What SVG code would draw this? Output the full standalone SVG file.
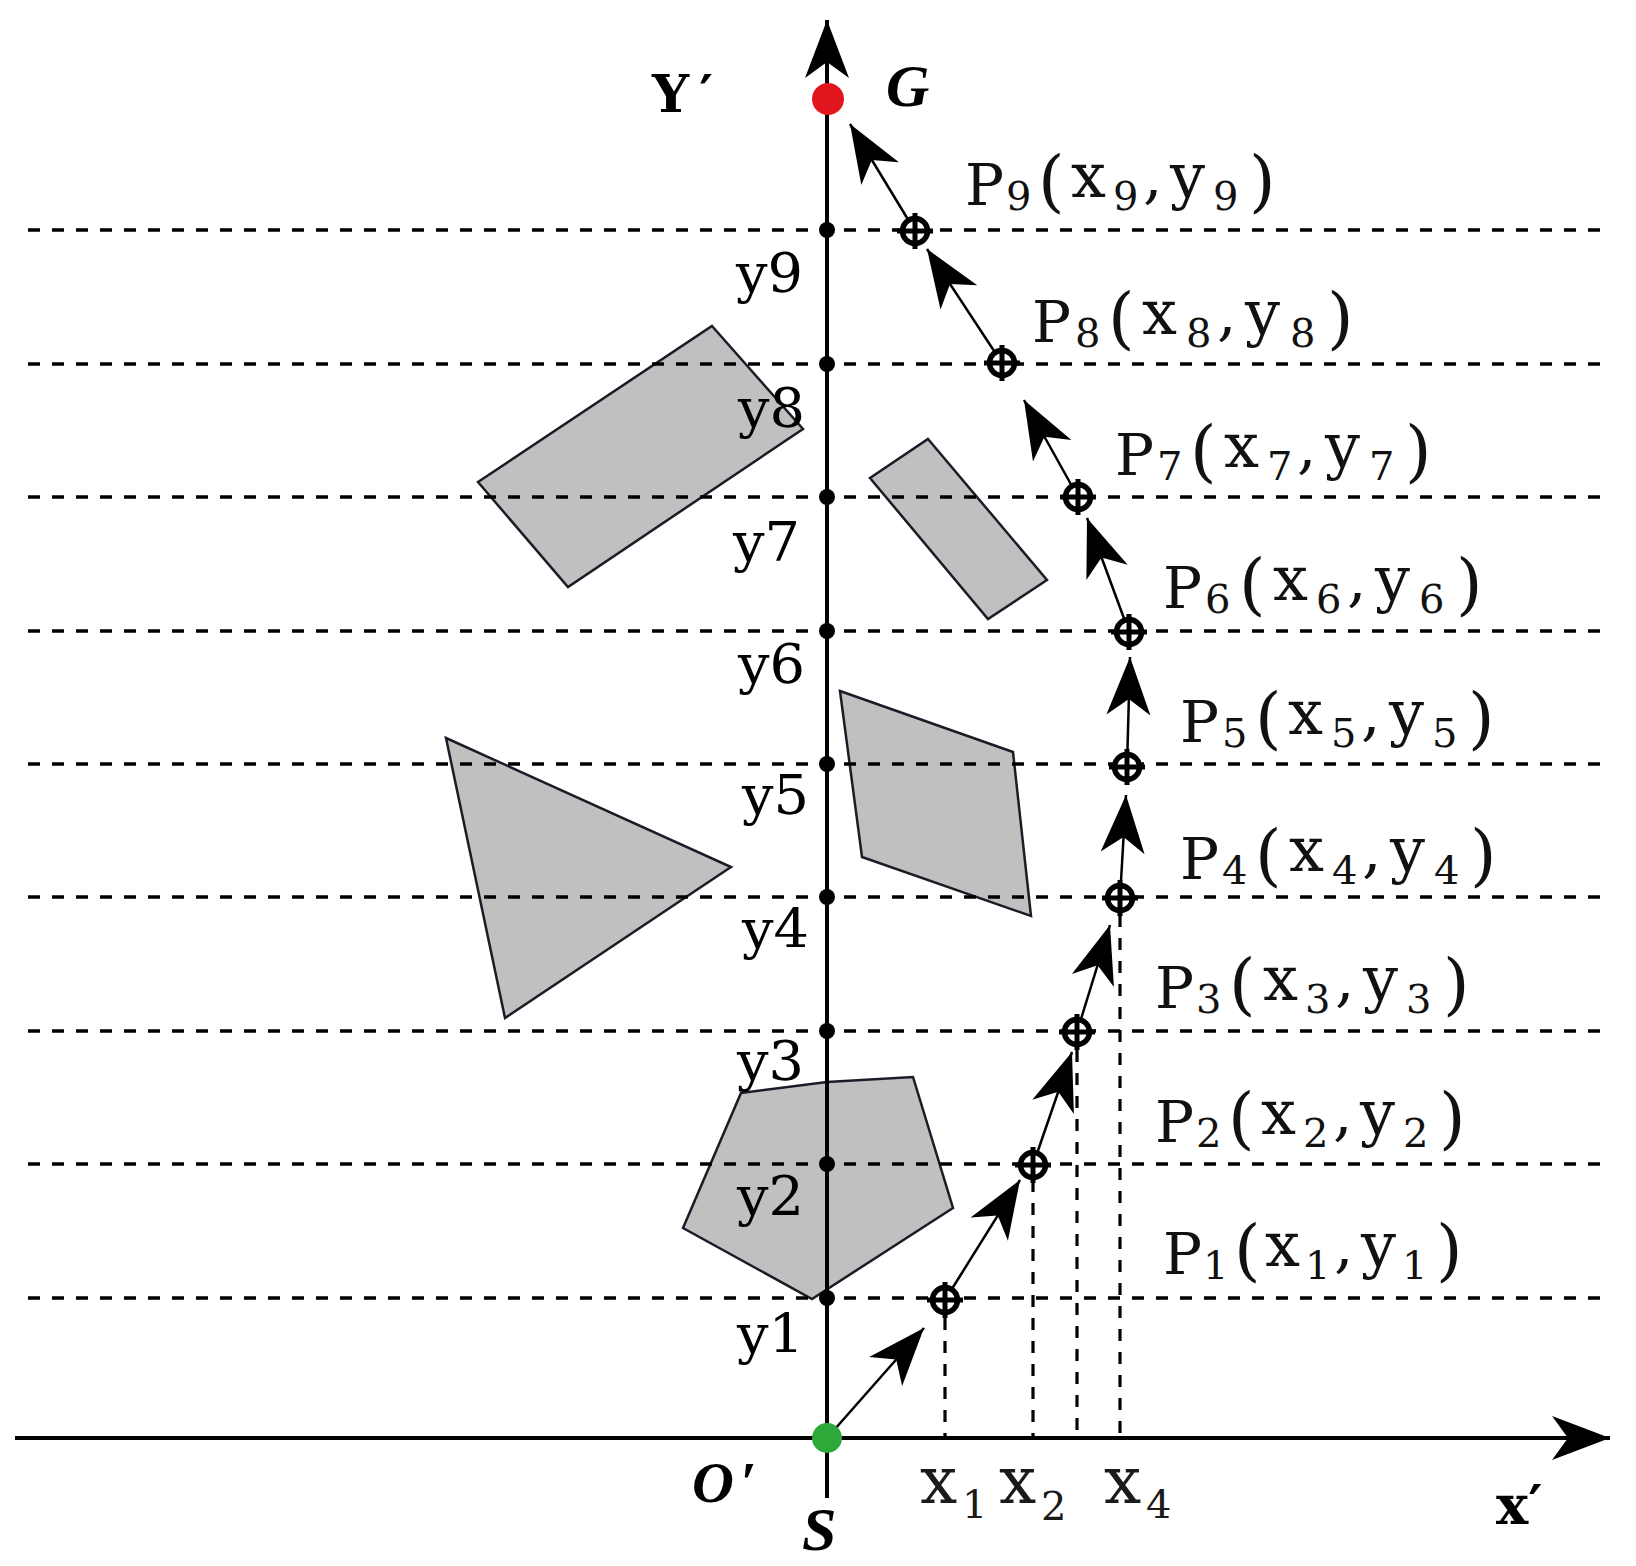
<svg xmlns="http://www.w3.org/2000/svg" width="1636" height="1566" viewBox="0 0 1636 1566">
<style>
.grid{stroke:#000;stroke-width:3.4;stroke-dasharray:12 12;fill:none}
.vgrid{stroke:#000;stroke-width:3.2;stroke-dasharray:12 11;fill:none}
.obs{fill:#c0c0c0;stroke:#1c1c28;stroke-width:2.5}
.axis{stroke:#000;stroke-width:4;fill:none}
.conn{stroke:#000;stroke-width:2.5;fill:none;marker-end:url(#ah)}
.tick{fill:#000}
.ylab{font-family:"DejaVu Serif","Liberation Serif",serif;font-size:54px;fill:#000}
.plab{font-family:"DejaVu Serif",serif;fill:#111}
.big{font-size:58px}
.xy{font-size:62px}
.sub{font-size:40px}
.par{font-size:68px}
.ital{font-family:"Liberation Serif",serif;font-style:italic;font-weight:bold;fill:#000}
.xl{font-family:"DejaVu Serif",serif;fill:#1a1a1a}
.bs{font-family:"DejaVu Serif",serif;font-weight:bold;fill:#000}
</style>
<defs>
<marker id="ah" viewBox="-60 -26 62 52" markerWidth="62" markerHeight="52" refX="0" refY="0" orient="auto" markerUnits="userSpaceOnUse">
<path d="M0,0 L-58,-22 L-42,0 L-58,22 Z" fill="#000"/>
</marker>
<g id="wp">
<circle r="12.5" fill="#fff" stroke="#000" stroke-width="5.5"/>
<path d="M-18,0 H18 M0,-18 V18" stroke="#000" stroke-width="5"/>
</g>
</defs>
<rect width="1636" height="1566" fill="#fff"/>

<g id="obstacles">
<polygon id="obs-rect1" class="obs" points="712,326 803,429 568,587 478,482"/>
<polygon id="obs-rect2" class="obs" points="928,439 1047,580 988,619 870,478"/>
<polygon id="obs-quad" class="obs" points="840,691 1013,752 1031,916 862,857"/>
<polygon id="obs-tri" class="obs" points="446,738 731,867 505,1018"/>
<polygon id="obs-pent" class="obs" points="741,1093 827,1082 913,1077 953,1208 812,1299 683,1228"/>
</g>

<g id="grid">
<line class="grid" x1="28" y1="230" x2="1601" y2="230"/>
<line class="grid" x1="28" y1="364" x2="1601" y2="364"/>
<line class="grid" x1="28" y1="497" x2="1601" y2="497"/>
<line class="grid" x1="28" y1="631" x2="1601" y2="631"/>
<line class="grid" x1="28" y1="764" x2="1601" y2="764"/>
<line class="grid" x1="28" y1="897" x2="1601" y2="897"/>
<line class="grid" x1="28" y1="1031" x2="1601" y2="1031"/>
<line class="grid" x1="28" y1="1164" x2="1601" y2="1164"/>
<line class="grid" x1="28" y1="1298" x2="1601" y2="1298"/>
<line class="vgrid" x1="945" y1="1318" x2="945" y2="1438"/>
<line class="vgrid" x1="1033" y1="1180" x2="1033" y2="1438"/>
<line class="vgrid" x1="1077" y1="1050" x2="1077" y2="1438"/>
<line class="vgrid" x1="1120" y1="915" x2="1120" y2="1438"/>
</g>

<g id="axes">
<line class="axis" x1="827" y1="1498" x2="827" y2="20" marker-end="url(#ah)"/>
<line class="axis" x1="15" y1="1438" x2="1610" y2="1438" marker-end="url(#ah)"/>
<g class="tick">
<circle cx="827" cy="230" r="8"/><circle cx="827" cy="364" r="8"/><circle cx="827" cy="497" r="8"/>
<circle cx="827" cy="631" r="8"/><circle cx="827" cy="764" r="8"/><circle cx="827" cy="897" r="8"/>
<circle cx="827" cy="1031" r="8"/><circle cx="827" cy="1164" r="8"/><circle cx="827" cy="1298" r="8"/>
</g>
</g>

<g id="axis-labels">
<text class="ylab" x="736" y="292" textLength="67" lengthAdjust="spacingAndGlyphs">y9</text>
<text class="ylab" x="738" y="427" textLength="67" lengthAdjust="spacingAndGlyphs">y8</text>
<text class="ylab" x="733" y="561" textLength="67" lengthAdjust="spacingAndGlyphs">y7</text>
<text class="ylab" x="738" y="683" textLength="67" lengthAdjust="spacingAndGlyphs">y6</text>
<text class="ylab" x="742" y="814" textLength="67" lengthAdjust="spacingAndGlyphs">y5</text>
<text class="ylab" x="742" y="948" textLength="67" lengthAdjust="spacingAndGlyphs">y4</text>
<text class="ylab" x="737" y="1080" textLength="67" lengthAdjust="spacingAndGlyphs">y3</text>
<text class="ylab" x="737" y="1215" textLength="67" lengthAdjust="spacingAndGlyphs">y2</text>
<text class="ylab" x="737" y="1353" textLength="67" lengthAdjust="spacingAndGlyphs">y1</text>
<text class="bs" x="652" y="112" font-size="52">Y<tspan dx="10">′</tspan></text>
<text class="ital" x="886" y="106" font-size="60">G</text>
<text class="ital" x="692" y="1502" font-size="58">O<tspan dx="6">′</tspan></text>
<text class="ital" x="802" y="1550" font-size="62">S</text>
<text class="xl" x="920" y="1503" font-size="66">x</text><text class="xl" x="962" y="1518" font-size="40">1</text>
<text class="xl" x="999" y="1503" font-size="66">x</text><text class="xl" x="1041" y="1520" font-size="40">2</text>
<text class="xl" x="1104" y="1503" font-size="66">x</text><text class="xl" x="1146" y="1518" font-size="40">4</text>
<text class="bs" x="1496" y="1524" font-size="54">x′</text>
</g>

<g id="connectors">
<line class="conn" x1="827" y1="1438" x2="924" y2="1328"/>
<line class="conn" x1="945" y1="1300" x2="1020" y2="1180"/>
<line class="conn" x1="1033" y1="1165" x2="1072" y2="1052"/>
<line class="conn" x1="1077" y1="1032" x2="1110" y2="925"/>
<line class="conn" x1="1120" y1="898" x2="1126" y2="795"/>
<line class="conn" x1="1127" y1="767" x2="1130" y2="657"/>
<line class="conn" x1="1129" y1="632" x2="1087" y2="518"/>
<line class="conn" x1="1078" y1="497" x2="1024" y2="400"/>
<line class="conn" x1="1002" y1="363" x2="927" y2="249"/>
<line class="conn" x1="915" y1="231" x2="850" y2="124"/>
</g>

<g id="start-S"><circle cx="827" cy="1438" r="15" fill="#2fa83a"/></g>
<g id="goal-G"><circle cx="828" cy="99" r="16" fill="#e2141c"/></g>

<g id="waypoints">
<use id="wp1" href="#wp" x="945" y="1300"/>
<use id="wp2" href="#wp" x="1033" y="1165"/>
<use id="wp3" href="#wp" x="1077" y="1032"/>
<use id="wp4" href="#wp" x="1120" y="898"/>
<use id="wp5" href="#wp" x="1127" y="767"/>
<use id="wp6" href="#wp" x="1129" y="632"/>
<use id="wp7" href="#wp" x="1078" y="497"/>
<use id="wp8" href="#wp" x="1002" y="363"/>
<use id="wp9" href="#wp" x="915" y="231"/>
</g>

<g id="point-labels" class="plab">
<text id="lab9"><tspan class="big" x="965" y="205">P</tspan><tspan class="sub" x="1006" y="210">9</tspan><tspan class="par" x="1038" y="204">(</tspan><tspan class="xy" x="1071" y="197">x</tspan><tspan class="sub" x="1113" y="210">9</tspan><tspan class="xy" x="1143" y="197">,</tspan><tspan class="xy" x="1170" y="197">y</tspan><tspan class="sub" x="1213" y="210">9</tspan><tspan class="par" x="1249" y="204">)</tspan></text>
<text id="lab8"><tspan class="big" x="1032" y="342">P</tspan><tspan class="sub" x="1075" y="347">8</tspan><tspan class="par" x="1108" y="341">(</tspan><tspan class="xy" x="1142" y="334">x</tspan><tspan class="sub" x="1186" y="347">8</tspan><tspan class="xy" x="1217" y="334">,</tspan><tspan class="xy" x="1245" y="334">y</tspan><tspan class="sub" x="1290" y="347">8</tspan><tspan class="par" x="1327" y="341">)</tspan></text>
<text id="lab7"><tspan class="big" x="1115" y="475">P</tspan><tspan class="sub" x="1157" y="480">7</tspan><tspan class="par" x="1190" y="474">(</tspan><tspan class="xy" x="1224" y="467">x</tspan><tspan class="sub" x="1267" y="480">7</tspan><tspan class="xy" x="1297" y="467">,</tspan><tspan class="xy" x="1325" y="467">y</tspan><tspan class="sub" x="1369" y="480">7</tspan><tspan class="par" x="1405" y="474">)</tspan></text>
<text id="lab6"><tspan class="big" x="1163" y="608">P</tspan><tspan class="sub" x="1205" y="613">6</tspan><tspan class="par" x="1239" y="607">(</tspan><tspan class="xy" x="1273" y="600">x</tspan><tspan class="sub" x="1316" y="613">6</tspan><tspan class="xy" x="1347" y="600">,</tspan><tspan class="xy" x="1375" y="600">y</tspan><tspan class="sub" x="1419" y="613">6</tspan><tspan class="par" x="1456" y="607">)</tspan></text>
<text id="lab5"><tspan class="big" x="1180" y="742">P</tspan><tspan class="sub" x="1222" y="747">5</tspan><tspan class="par" x="1255" y="741">(</tspan><tspan class="xy" x="1288" y="734">x</tspan><tspan class="sub" x="1331" y="747">5</tspan><tspan class="xy" x="1361" y="734">,</tspan><tspan class="xy" x="1389" y="734">y</tspan><tspan class="sub" x="1432" y="747">5</tspan><tspan class="par" x="1468" y="741">)</tspan></text>
<text id="lab4"><tspan class="big" x="1180" y="879">P</tspan><tspan class="sub" x="1222" y="884">4</tspan><tspan class="par" x="1255" y="878">(</tspan><tspan class="xy" x="1289" y="871">x</tspan><tspan class="sub" x="1332" y="884">4</tspan><tspan class="xy" x="1362" y="871">,</tspan><tspan class="xy" x="1390" y="871">y</tspan><tspan class="sub" x="1434" y="884">4</tspan><tspan class="par" x="1470" y="878">)</tspan></text>
<text id="lab3"><tspan class="big" x="1155" y="1008">P</tspan><tspan class="sub" x="1196" y="1013">3</tspan><tspan class="par" x="1229" y="1007">(</tspan><tspan class="xy" x="1263" y="1000">x</tspan><tspan class="sub" x="1305" y="1013">3</tspan><tspan class="xy" x="1335" y="1000">,</tspan><tspan class="xy" x="1363" y="1000">y</tspan><tspan class="sub" x="1406" y="1013">3</tspan><tspan class="par" x="1443" y="1007">)</tspan></text>
<text id="lab2"><tspan class="big" x="1155" y="1142">P</tspan><tspan class="sub" x="1196" y="1147">2</tspan><tspan class="par" x="1228" y="1141">(</tspan><tspan class="xy" x="1261" y="1134">x</tspan><tspan class="sub" x="1303" y="1147">2</tspan><tspan class="xy" x="1333" y="1134">,</tspan><tspan class="xy" x="1360" y="1134">y</tspan><tspan class="sub" x="1403" y="1147">2</tspan><tspan class="par" x="1439" y="1141">)</tspan></text>
<text id="lab1"><tspan class="big" x="1163" y="1274">P</tspan><tspan class="sub" x="1203" y="1279">1</tspan><tspan class="par" x="1234" y="1273">(</tspan><tspan class="xy" x="1265" y="1266">x</tspan><tspan class="sub" x="1305" y="1279">1</tspan><tspan class="xy" x="1334" y="1266">,</tspan><tspan class="xy" x="1361" y="1266">y</tspan><tspan class="sub" x="1402" y="1279">1</tspan><tspan class="par" x="1436" y="1273">)</tspan></text>
</g>
</svg>
